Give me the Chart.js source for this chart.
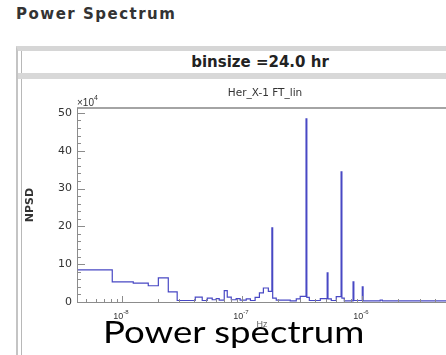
<!DOCTYPE html>
<html lang="en">
<head>
  <meta charset="UTF-8" />
  <title>Power Spectrum</title>
  <script src="https://cdn.jsdelivr.net/npm/chart.js"></script>
  <style>
    html, body {
      margin: 0;
      padding: 0;
      background: #fff;
      width: 446px;
      height: 355px;
      overflow: hidden;
    }

    body {
      position: relative;
      font-family: 'Liberation Sans', Arial, sans-serif;
    }

    .page-title {
      position: absolute;
      left: 16px;
      top: 5px;
      font-family: 'DejaVu Sans', sans-serif;
      font-weight: bold;
      font-size: 15px;
      letter-spacing: 1.5px;
      color: #333;
    }

    .frame {
      position: absolute;
      left: 16px;
      top: 46px;
      width: 520px;
      height: 400px;
      border-top: 5px solid #d6d6d6;
      border-left: 2px solid #c4c4c4;
    }

    .inner-line {
      position: absolute;
      left: 21px;
      top: 51px;
      width: 1px;
      height: 400px;
      background: #b8b8b8;
    }

    .header {
      position: absolute;
      left: 22px;
      top: 51px;
      width: 476px;
      height: 22px;
      line-height: 22px;
      text-align: center;
      font-family: 'DejaVu Sans', sans-serif;
      font-weight: bold;
      font-size: 15px;
      color: #222;
    }

    .band {
      position: absolute;
      left: 18px;
      top: 73px;
      width: 520px;
      height: 6px;
      background: #d8d8d8;
    }

    #chart {
      position: absolute;
      left: 22px;
      top: 80px;
    }

    .caption {
      position: absolute;
      left: 103px;
      top: 316px;
      font-family: Lato, 'Open Sans', sans-serif;
      font-size: 30px;
      line-height: 30px;
      color: #000;
      white-space: nowrap;
      transform-origin: left center;
      transform: scaleX(1.22);
    }
  </style>
</head>
<body>

  <div class="page-title">Power Spectrum</div>
  <div class="frame"></div>
  <div class="inner-line"></div>
  <div class="header">binsize =24.0 hr</div>
  <div class="band"></div>
  <canvas id="chart" width="440" height="262"></canvas>
  <div class="caption">Power spectrum</div>

  <script>
    // bin left edges in Hz (last entry closes the final bin)
    const binEdges = [3.0e-9, 8.26e-9, 1.236e-8, 1.648e-8, 2.0e-8, 2.42e-8, 2.87e-8, 4.06e-8,
      4.64e-8, 5.11e-8, 5.62e-8, 6.07e-8, 6.43e-8, 7.08e-8, 7.5e-8, 8.1e-8, 8.9e-8, 9.6e-8,
      1.08e-7, 1.17e-7, 1.28e-7, 1.39e-7, 1.5e-7, 1.65e-7, 1.765e-7, 1.793e-7, 1.92e-7,
      2.51e-7, 2.82e-7, 3.04e-7, 3.40e-7, 3.453e-7, 3.62e-7, 4.47e-7, 5.10e-7, 5.18e-7,
      5.52e-7, 6.07e-7, 6.66e-7, 6.765e-7, 7.08e-7, 8.38e-7, 8.51e-7, 1.0e-6, 1.016e-6,
      1.41e-6, 1.47e-6, 6.0e-6];

    // NPSD per bin, in units of 1e4
    const npsd = [8.5, 5.3, 5.0, 4.3, 6.4, 2.7, 0.4, 1.3,
      0.4, 1.0, 0.6, 0.9, 0.5, 3.0, 1.3, 0.6, 0.9, 0.5,
      0.8, 0.4, 1.2, 2.4, 3.7, 2.8, 19.6, 1.0, 0.5,
      0.3, 0.8, 1.5, 48.4, 1.2, 0.4, 0.9, 7.7, 0.8,
      0.4, 1.4, 34.4, 1.0, 0.3, 5.3, 0.4, 4.0, 0.3,
      0.5, 0.3, 0.3];

    const yTicks = [0, 10, 20, 30, 40, 50];
    const xTickExps = [-8, -7, -6];

    const xMin = 4.2e-9, xMax = 5.7e-6;
    const yMin = 0, yMax = 51.3;

    function line(ctx, x1, y1, x2, y2) {
      ctx.beginPath();
      ctx.moveTo(x1, y1);
      ctx.lineTo(x2, y2);
      ctx.stroke();
    }

    // axes, inward ticks and labels drawn the old-plot way
    const decor = {
      id: 'decor',
      afterDraw(chart) {
        const { ctx, chartArea: a, scales: { x, y } } = chart;
        ctx.save();

        ctx.strokeStyle = '#a4a4a4';
        ctx.lineWidth = 2;
        line(ctx, a.left, a.top, chart.width, a.top);

        ctx.strokeStyle = '#8c8c8c';
        ctx.lineWidth = 1;
        line(ctx, a.left + 0.5, a.top, a.left + 0.5, a.bottom);
        line(ctx, a.left, a.bottom + 0.5, chart.width, a.bottom + 0.5);

        // y ticks
        for (let v = 0; v <= 50; v += 2) {
          const py = Math.round(y.getPixelForValue(v)) + 0.5;
          line(ctx, a.left, py, a.left + (v % 10 === 0 ? 8 : 4), py);
        }

        // x ticks
        for (let e = -9; e <= -5; e++) {
          for (let m = 1; m <= 9; m++) {
            const f = m * Math.pow(10, e);
            if (f < xMin || f > xMax) continue;
            const px = Math.round(x.getPixelForValue(f)) + 0.5;
            line(ctx, px, a.bottom, px, a.bottom - (m === 1 ? 6 : 3));
          }
        }

        ctx.fillStyle = '#333';
        ctx.font = '11px "DejaVu Sans"';
        ctx.textAlign = 'right';
        ctx.textBaseline = 'middle';
        yTicks.forEach(v => ctx.fillText(String(v), a.left - 5, y.getPixelForValue(v)));

        xTickExps.forEach(e => {
          const px = x.getPixelForValue(Math.pow(10, e));
          ctx.font = '9px "Liberation Sans"';
          ctx.textAlign = 'right';
          ctx.textBaseline = 'alphabetic';
          ctx.fillText('10', px + 1, a.bottom + 17);
          ctx.font = '6px "Liberation Sans"';
          ctx.textAlign = 'left';
          ctx.fillText(String(e), px + 1, a.bottom + 12);
        });

        // x10^4 multiplier
        ctx.font = '10px "Liberation Sans"';
        ctx.textAlign = 'left';
        ctx.fillText('\u00d710', a.left, a.top - 2);
        ctx.font = '7px "Liberation Sans"';
        ctx.fillText('4', a.left + 17, a.top - 8);

        // plot title and axis titles
        ctx.font = '10.5px "DejaVu Sans"';
        ctx.textAlign = 'center';
        ctx.textBaseline = 'middle';
        ctx.fillText('Her_X-1 FT_lin', (a.left + a.right) / 2, a.top - 15);

        ctx.font = '9px "Liberation Sans"';
        ctx.fillStyle = '#666';
        ctx.fillText('Hz', (a.left + a.right) / 2 - 3, a.bottom + 23);

        ctx.fillStyle = '#333';
        ctx.font = 'bold 11px "DejaVu Sans"';
        ctx.translate(a.left - 47, (a.top + a.bottom) / 2);
        ctx.rotate(-Math.PI / 2);
        ctx.fillText('NPSD', 0, 0);

        ctx.restore();
      }
    };

    const ctx = document.getElementById('chart').getContext('2d');
    new Chart(ctx, {
      type: 'line',
      data: {
        datasets: [{
          data: binEdges.map((f, i) => ({ x: f, y: npsd[i] })),
          stepped: true,
          borderColor: '#4848c4',
          borderWidth: 1.2,
          pointRadius: 0,
          fill: false
        }]
      },
      options: {
        responsive: false,
        animation: false,
        events: [],
        layout: {
          padding: { left: 55, top: 28, right: 9, bottom: 40 }
        },
        plugins: {
          legend: { display: false },
          tooltip: { enabled: false }
        },
        scales: {
          x: { type: 'logarithmic', min: xMin, max: xMax, display: false },
          y: { min: yMin, max: yMax, display: false }
        }
      },
      plugins: [decor]
    });
  </script>

</body>
</html>
